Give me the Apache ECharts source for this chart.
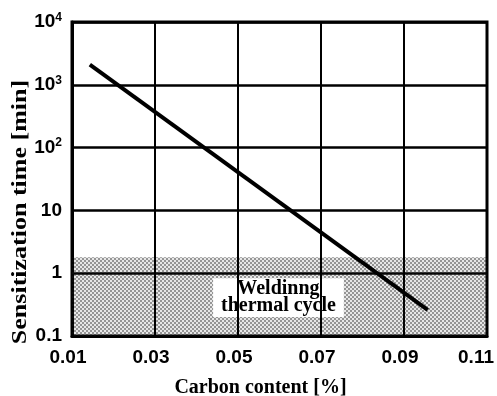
<!DOCTYPE html>
<html>
<head>
<meta charset="utf-8">
<script src="https://cdn.jsdelivr.net/npm/echarts@6/dist/echarts.min.js"></script>
<style>
  html, body { margin: 0; padding: 0; background: #fff; }
  #chart { width: 497px; height: 396px; }
</style>
</head>
<body>
<div id="chart"></div>
<script>
// 数据
const carbon = [0.0143, 0.0957]            // 碳含量 [%]
const sensTime = [2100, 0.26]              // 敏化时间 [min]
const xLabels = [0.01, 0.03, 0.05, 0.07, 0.09, 0.11]
const xGrid = [0.03, 0.05, 0.07, 0.09]     // 竖向网格线
const weldBand = [0.1, 1.8]                // 焊接热循环阴影区
const weldBox = [[0.044, 0.2], [0.0755, 0.83]] // 白色标签框
const weldText = 'Weldinng\nthermal cycle'
const yTitle = 'Sensitization time [min]'

// 网点阴影
function makeDots() {
    const c = document.createElement('canvas')
    c.width = 4
    c.height = 4
    const ctx = c.getContext('2d')
    for (let i = 0; i < 4; i++) {
        for (let j = 0; j < 4; j++) {
            const dark = (Math.floor(i / 2) + Math.floor(j / 2)) % 2 === 0
            ctx.fillStyle = dark ? 'rgba(20,20,20,0.45)' : 'rgba(20,20,20,0.1)'
            ctx.fillRect(i, j, 1, 1)
        }
    }
    return c
}

const chart = echarts.init(document.getElementById('chart'))

chart.setOption({
    animation: false,
    grid: {
        left: 72,
        right: 10,
        top: 22,
        bottom: 60,
        outerBoundsMode: 'none',
        containLabel: false,
        show: true,
        borderColor: '#000',
        borderWidth: 3
    },
    graphic: [{// 纵轴标题（原图纵向拉伸）
        type: 'text',
        x: 21,
        y: 212,
        rotation: Math.PI / 2,
        scaleX: 1.3,
        silent: true,
        style: {
            text: yTitle,
            font: 'bold 20px "Liberation Serif"',
            fill: '#000',
            textAlign: 'center',
            textVerticalAlign: 'middle'
        }
    }],
    xAxis: {
        type: 'value',
        min: 0.01,
        max: 0.11,
        interval: 0.01,
        name: 'Carbon content [%]',
        nameLocation: 'middle',
        nameGap: 42,
        nameTextStyle: {
            fontFamily: 'Liberation Serif',
            fontWeight: 'bold',
            fontSize: 20,
            color: '#000',
            padding: [0, 38, 0, 0]
        },
        axisLine: { lineStyle: { color: '#000', width: 3 } },
        axisTick: { show: false },
        splitLine: { show: false },
        axisLabel: {
            margin: 12,
            color: '#000',
            formatter: function (v) {
                const k = Math.round(v * 100)
                if (!xLabels.some(x => Math.round(x * 100) === k)) return ''
                return (k === 11 ? '{m|' : '{n|') + v.toFixed(2) + '}'
            },
            rich: {
                n: { fontFamily: 'Liberation Sans', fontWeight: 'bold', fontSize: 19, color: '#000', padding: [0, 8, 0, 0] },
                m: { fontFamily: 'Liberation Sans', fontWeight: 'bold', fontSize: 19, color: '#000', padding: [0, 22, 0, 0] }
            }
        }
    },
    yAxis: {
        type: 'log',
        logBase: 10,
        min: 0.1,
        max: 10000,
        axisLine: { show: true, lineStyle: { color: '#000', width: 3 } },
        axisTick: { show: false },
        splitLine: { show: true, lineStyle: { color: '#000', width: 2.5 } },
        axisLabel: {
            margin: 10,
            color: '#000',
            formatter: function (v) {
                const e = Math.round(Math.log10(v))
                if (e >= 2) return '{b|10}{s|' + e + '}'
                if (e === 1) return '{b|10}'
                if (e === 0) return '{b|1}'
                return '{b|0.1}'
            },
            rich: {
                b: { fontFamily: 'Liberation Sans', fontWeight: 'bold', fontSize: 19, color: '#000' },
                s: { fontFamily: 'Liberation Sans', fontWeight: 'bold', fontSize: 12, color: '#000', verticalAlign: 'bottom', padding: [0, 0, 9, 0] }
            }
        }
    },
    series: [
        {// 竖向网格线
            type: 'line',
            data: [],
            z: 2,
            silent: true,
            markLine: {
                silent: true,
                symbol: 'none',
                label: { show: false },
                lineStyle: { color: '#000', width: 2, type: 'solid' },
                data: xGrid.map(v => ({ xAxis: v }))
            }
        },
        {// 阴影区与标签框
            type: 'line',
            data: [],
            z: 3,
            silent: true,
            markArea: {
                silent: true,
                data: [
                    [
                        { yAxis: weldBand[0], itemStyle: { color: { image: makeDots(), repeat: 'repeat' } } },
                        { yAxis: weldBand[1] }
                    ],
                    [
                        {
                            xAxis: weldBox[0][0], yAxis: weldBox[0][1],
                            itemStyle: { color: '#fff' },
                            label: {
                                show: true,
                                position: 'inside',
                                formatter: weldText,
                                fontFamily: 'Liberation Serif',
                                fontWeight: 'bold',
                                fontSize: 20,
                                lineHeight: 17,
                                color: '#000'
                            }
                        },
                        { xAxis: weldBox[1][0], yAxis: weldBox[1][1] }
                    ]
                ]
            }
        },
        {
            type: 'line',
            z: 5,
            symbol: 'none',
            lineStyle: { color: '#000', width: 4 },
            data: carbon.map((c, i) => [c, sensTime[i]])
        }
    ]
})
</script>
</body>
</html>
